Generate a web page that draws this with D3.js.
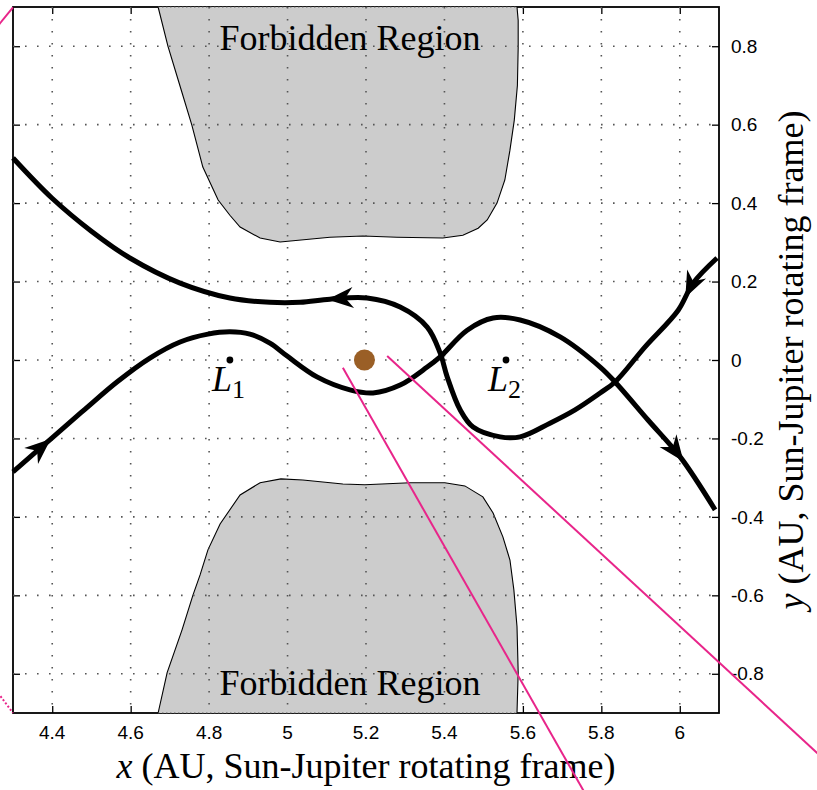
<!DOCTYPE html>
<html><head><meta charset="utf-8">
<script src="https://cdn.jsdelivr.net/npm/d3@7"></script>
<style>body{margin:0;background:#fff}</style>
</head><body>
<svg id="c" width="817" height="790"></svg>
<script>
// ---------------- data ----------------
const xTicks = [4.4, 4.6, 4.8, 5.0, 5.2, 5.4, 5.6, 5.8, 6.0];
const xTickLabels = ["4.4", "4.6", "4.8", "5", "5.2", "5.4", "5.6", "5.8", "6"];
const yTicks = [-0.8, -0.6, -0.4, -0.2, 0, 0.2, 0.4, 0.6, 0.8];
const yTickLabels = ["-0.8", "-0.6", "-0.4", "-0.2", "0", "0.2", "0.4", "0.6", "0.8"];

// trajectory A (enters top right, loops around L2, exits upper left)
const trajAx = [6.095, 6.034, 5.996, 5.911, 5.835, 5.797, 5.733, 5.669, 5.593, 5.542, 5.473, 5.440, 5.407, 5.389, 5.356, 5.287, 5.203, 5.108, 5.032, 4.955, 4.853, 4.726, 4.598, 4.499, 4.399, 4.300];
const trajAy = [0.260, 0.196, 0.127, 0.033, -0.056, -0.084, -0.127, -0.161, -0.196, -0.196, -0.171, -0.127, -0.043, 0.018, 0.084, 0.135, 0.158, 0.155, 0.147, 0.147, 0.158, 0.196, 0.260, 0.329, 0.413, 0.515];
// trajectory B (enters lower left, exits lower right)
const trajBx = [4.300, 4.399, 4.484, 4.565, 4.649, 4.726, 4.797, 4.853, 4.904, 4.955, 4.999, 5.075, 5.159, 5.218, 5.287, 5.356, 5.389, 5.458, 5.524, 5.593, 5.695, 5.797, 5.835, 5.919, 6.001, 6.090];
const trajBy = [-0.285, -0.199, -0.125, -0.056, 0.005, 0.046, 0.066, 0.072, 0.066, 0.043, 0.010, -0.043, -0.076, -0.084, -0.064, -0.018, 0.008, 0.076, 0.107, 0.102, 0.059, -0.018, -0.056, -0.153, -0.247, -0.382];

// arrow tip positions (on trajectories)
const arrowCurve = ["A", "A", "B", "B"];
const arrowX = [6.013, 5.101, 4.394, 6.008];
const arrowY = [0.160, 0.153, -0.199, -0.260];

// forbidden regions (zero-velocity boundaries)
const regionTopX = [4.670, 4.695, 4.726, 4.756, 4.784, 4.823, 4.853, 4.879, 4.930, 4.981, 5.108, 5.192, 5.279, 5.396, 5.447, 5.486, 5.509, 5.534, 5.554, 5.567, 5.578, 5.586, 5.588, 5.588, 5.585];
const regionTopY = [0.900, 0.800, 0.698, 0.599, 0.492, 0.408, 0.369, 0.339, 0.311, 0.301, 0.313, 0.316, 0.313, 0.311, 0.318, 0.336, 0.357, 0.400, 0.459, 0.535, 0.611, 0.700, 0.797, 0.866, 0.900];
const regionBotX = [4.670, 4.693, 4.731, 4.759, 4.777, 4.797, 4.828, 4.879, 4.930, 4.983, 5.039, 5.141, 5.197, 5.312, 5.401, 5.452, 5.498, 5.524, 5.549, 5.567, 5.577, 5.585, 5.588, 5.585];
const regionBotY = [-0.900, -0.797, -0.688, -0.599, -0.548, -0.484, -0.418, -0.344, -0.313, -0.303, -0.306, -0.316, -0.318, -0.313, -0.313, -0.321, -0.349, -0.390, -0.451, -0.510, -0.586, -0.680, -0.797, -0.900];

// bodies and Lagrange points
const jupiter = {x: 5.196, y: 0};
const lagrangeNames = ["1", "2"];
const lagrangeX = [4.853, 5.557];
const lagrangeY = [0, 0];

// region labels
const regionLabels = ["Forbidden Region", "Forbidden Region"];
const regionLabelX = [5.159, 5.159];
const regionLabelY = [0.790, -0.854];

// stray magenta lines
const pinkX = [[5.141, 5.767], [5.254, 6.383], [4.250, 4.300], [4.262, 4.300]];
const pinkY = [[-0.020, -1.120], [0.010, -1.032], [0.838, 0.899], [-0.849, -0.900]];
const pinkDotted = [false, false, false, true];

// ---------------- drawing ----------------
const svg = d3.select("#c");
const L = 13, R = 719, T = 7, B = 713;
const x = d3.scaleLinear().domain([4.3, 6.1]).range([L, R]);
const y = d3.scaleLinear().domain([-0.9, 0.9]).range([B, T]);
const serif = "'Liberation Serif','Times New Roman',serif";
const sans = "'Liberation Sans',Arial,Helvetica,sans-serif";

svg.append("rect").attr("width", 817).attr("height", 790).attr("fill", "#fff");

// box and inward ticks (drawn first; patches cover them)
const axG = svg.append("g");
function addAxis(axis, tx, ty) {
  const g = axG.append("g").attr("transform", `translate(${tx},${ty})`).call(axis);
  g.select(".domain").remove();
  g.selectAll(".tick line").attr("stroke", "#000").attr("stroke-width", 1.3);
  g.selectAll(".tick text").remove();
}
addAxis(d3.axisBottom(x).tickValues(xTicks).tickSizeInner(-7).tickSizeOuter(0), 0, B);
addAxis(d3.axisTop(x).tickValues(xTicks).tickSizeInner(-7).tickSizeOuter(0), 0, T);
addAxis(d3.axisLeft(y).tickValues(yTicks).tickSizeInner(-7).tickSizeOuter(0), L, 0);
addAxis(d3.axisRight(y).tickValues(yTicks).tickSizeInner(-7).tickSizeOuter(0), R, 0);
axG.append("rect").attr("x", L).attr("y", T).attr("width", R - L).attr("height", B - T)
  .attr("fill", "none").attr("stroke", "#000").attr("stroke-width", 1.8);

// forbidden regions
const regLine = d3.line().x(d => x(d[0])).y(d => y(d[1])).curve(d3.curveLinear);
[[regionTopX, regionTopY], [regionBotX, regionBotY]].forEach(([rx, ry]) => {
  const pts = rx.map((v, i) => [v, ry[i]]);
  svg.append("path").attr("d", regLine(pts) + "Z").attr("fill", "#cccccc").attr("stroke", "none");
  svg.append("path").attr("d", regLine(pts)).attr("fill", "none").attr("stroke", "#000").attr("stroke-width", 1.1);
});

// grid
const gridG = svg.append("g").attr("stroke", "#555").attr("stroke-width", 1.6).attr("stroke-dasharray", "1.6 10.4");
xTicks.forEach(v => gridG.append("line").attr("x1", x(v)).attr("x2", x(v)).attr("y1", T).attr("y2", B));
yTicks.forEach(v => gridG.append("line").attr("y1", y(v)).attr("y2", y(v)).attr("x1", L).attr("x2", R));
// dotted box edge where the regions cover the frame
gridG.append("line").attr("x1", x(regionTopX[0])).attr("x2", x(regionTopX[regionTopX.length - 1])).attr("y1", T).attr("y2", T).attr("stroke-width", 1.2).attr("stroke-dasharray", "1.3 2.7");
gridG.append("line").attr("x1", x(regionBotX[0])).attr("x2", x(regionBotX[regionBotX.length - 1])).attr("y1", B).attr("y2", B).attr("stroke-width", 1.2).attr("stroke-dasharray", "1.3 2.7");

// trajectories
const trajLine = d3.line().x(d => x(d[0])).y(d => y(d[1])).curve(d3.curveCatmullRom.alpha(0.5));
const paths = {};
[["A", trajAx, trajAy], ["B", trajBx, trajBy]].forEach(([name, tx, ty]) => {
  const pts = tx.map((v, i) => [v, ty[i]]);
  paths[name] = svg.append("path").attr("d", trajLine(pts)).attr("fill", "none")
    .attr("stroke", "#000").attr("stroke-width", 5).attr("stroke-linecap", "butt").attr("stroke-linejoin", "round").node();
});

// arrows
arrowCurve.forEach((c, i) => {
  const p = paths[c];
  const total = p.getTotalLength();
  const px = x(arrowX[i]), py = y(arrowY[i]);
  let best = 0, bd = Infinity;
  for (let s = 0; s <= total; s += 0.5) {
    const q = p.getPointAtLength(s);
    const d = (q.x - px) ** 2 + (q.y - py) ** 2;
    if (d < bd) { bd = d; best = s; }
  }
  const q1 = p.getPointAtLength(best);
  const q0 = p.getPointAtLength(Math.max(0, best - 8));
  const ang = Math.atan2(q1.y - q0.y, q1.x - q0.x) * 180 / Math.PI;
  svg.append("path").attr("d", "M0,0 L-26,-10.5 L-18,0 L-26,10.5 Z")
    .attr("transform", `translate(${q1.x},${q1.y}) rotate(${ang})`).attr("fill", "#000");
});

// Jupiter
svg.append("circle").attr("cx", x(jupiter.x)).attr("cy", y(jupiter.y)).attr("r", 10.5).attr("fill", "#9a5f26");

// Lagrange points
lagrangeX.forEach((v, i) => {
  svg.append("circle").attr("cx", x(v)).attr("cy", y(lagrangeY[i])).attr("r", 3.4).attr("fill", "#000");
  const t = svg.append("text").attr("x", x(v) - 18).attr("y", y(lagrangeY[i]) + 31)
    .attr("font-family", serif).attr("font-size", 36);
  t.append("tspan").attr("font-style", "italic").text("L");
  t.append("tspan").attr("font-size", 26).attr("dy", 7).text(lagrangeNames[i]);
});

// region labels
regionLabels.forEach((s, i) => {
  svg.append("text").attr("x", x(regionLabelX[i])).attr("y", y(regionLabelY[i]))
    .attr("text-anchor", "middle").attr("font-family", serif).attr("font-size", 36).text(s);
});

// tick labels
xTicks.forEach((v, i) => {
  svg.append("text").attr("x", x(v)).attr("y", B + 26).attr("text-anchor", "middle")
    .attr("font-family", sans).attr("font-size", 19).text(xTickLabels[i]);
});
yTicks.forEach((v, i) => {
  svg.append("text").attr("x", R + 12).attr("y", y(v)).attr("dy", "0.35em")
    .attr("font-family", sans).attr("font-size", 19).text(yTickLabels[i]);
});

// axis labels
const xl = svg.append("text").attr("x", (L + R) / 2).attr("y", 778).attr("text-anchor", "middle")
  .attr("font-family", serif).attr("font-size", 36);
xl.append("tspan").attr("font-style", "italic").text("x");
xl.append("tspan").text(" (AU, Sun-Jupiter rotating frame)");
const yl = svg.append("text").attr("transform", `translate(803,${(T + B) / 2}) rotate(-90)`).attr("text-anchor", "middle")
  .attr("font-family", serif).attr("font-size", 36);
yl.append("tspan").attr("font-style", "italic").text("y");
yl.append("tspan").text(" (AU, Sun-Jupiter rotating frame)");

// magenta lines (unclipped)
pinkX.forEach((px, i) => {
  svg.append("line").attr("x1", x(px[0])).attr("x2", x(px[1])).attr("y1", y(pinkY[i][0])).attr("y2", y(pinkY[i][1]))
    .attr("stroke", "#e8258a").attr("stroke-width", 2)
    .attr("stroke-dasharray", pinkDotted[i] ? "2 2" : null);
});
</script>
</body></html>
